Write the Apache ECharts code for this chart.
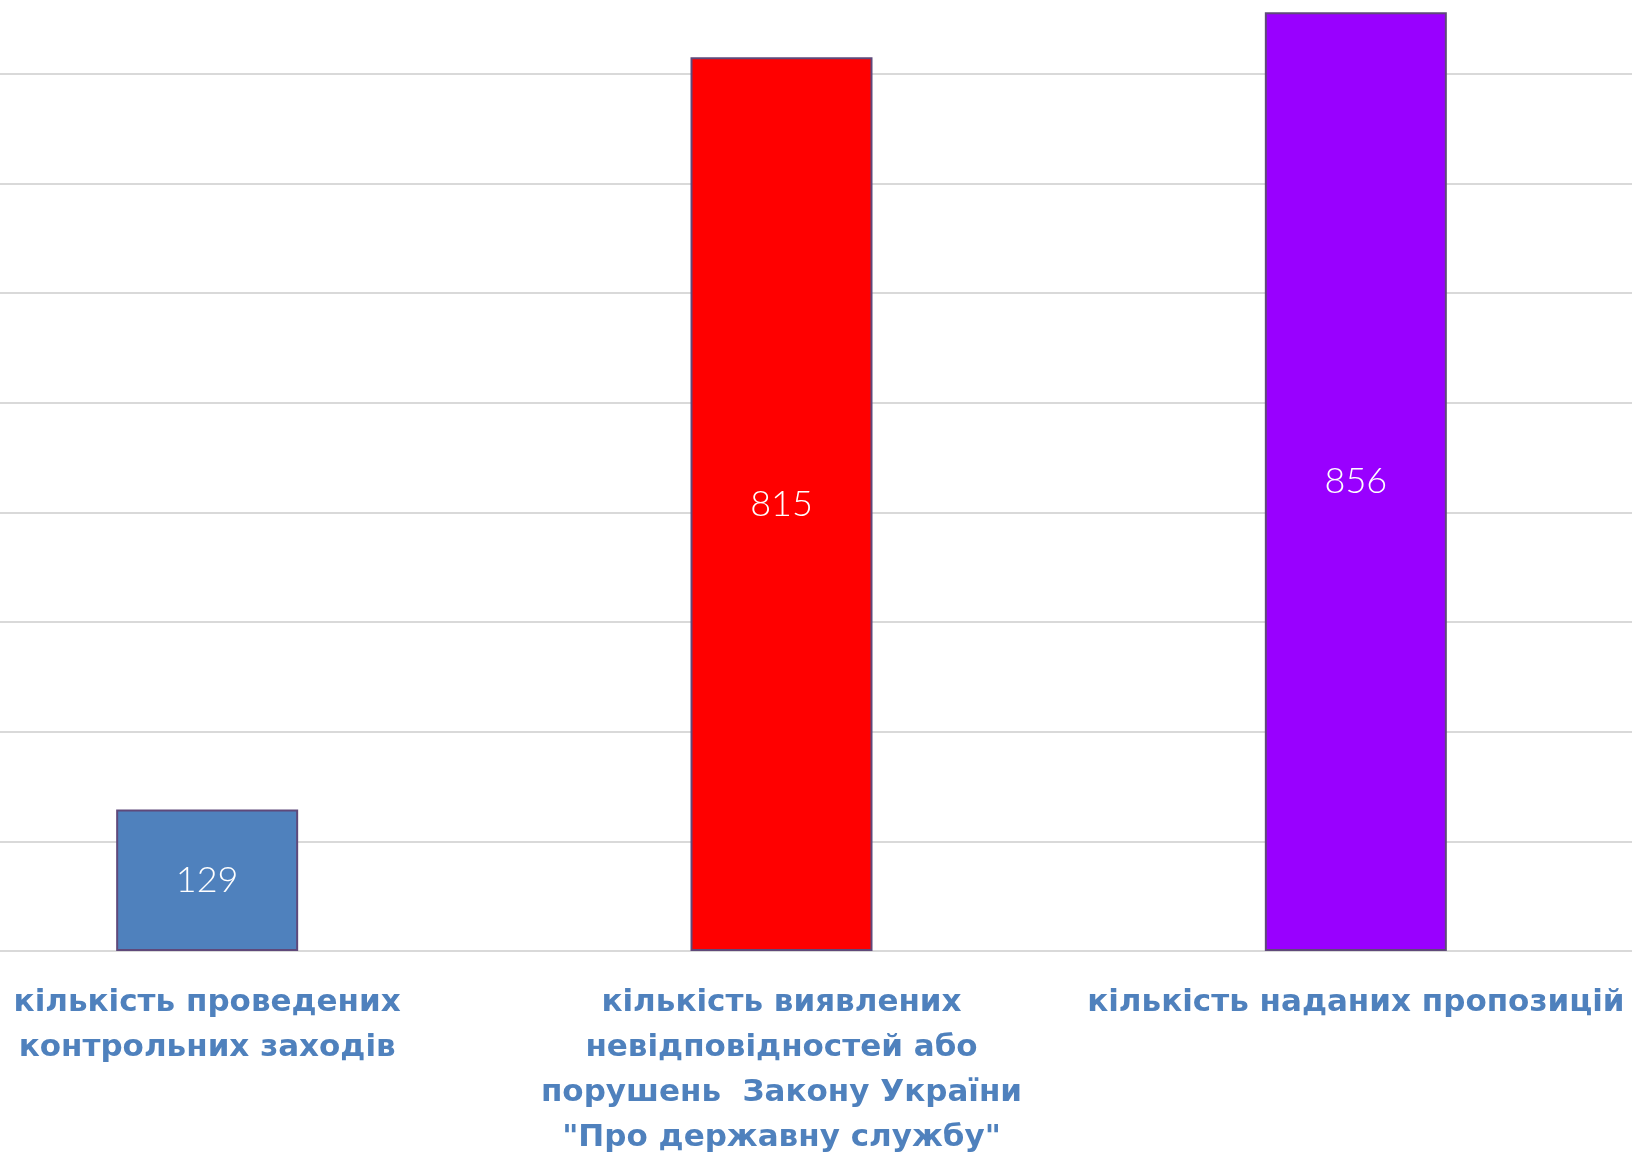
<!DOCTYPE html>
<html>
<head>
<meta charset="utf-8">
<script src="https://cdn.jsdelivr.net/npm/echarts@6/dist/echarts.min.js"></script>
<style>
html,body{margin:0;padding:0;background:#fff;}
#chart{width:1632px;height:1153px;}
</style>
</head>
<body>
<div id="chart"></div>
<script>
const categories = [
  "кількість проведених\nконтрольних заходів",
  "кількість виявлених\nневідповідностей або\nпорушень  Закону України\n\"Про державну службу\"",
  "кількість наданих пропозицій"
];
const values = [129, 815, 856];
const barColors = ["#4F81BD", "#FF0000", "#9900FF"];

const chart = echarts.init(document.getElementById('chart'));
chart.setOption({
  animation: false,
  backgroundColor: '#ffffff',
  grid: { left: -80, right: -11, top: -36, bottom: 202, containLabel: false, outerBoundsMode: 'none' },
  xAxis: {
    type: 'category',
    data: categories,
    axisLine: { show: false },
    axisTick: { show: false },
    axisLabel: {
      interval: 0,
      margin: 29,
      color: '#4F81BD',
      fontFamily: 'DejaVu Sans',
      fontWeight: 'bold',
      fontSize: 31,
      lineHeight: 45,
      align: 'center'
    }
  },
  yAxis: {
    type: 'value',
    min: 0,
    max: 900,
    interval: 100,
    axisLine: { show: false },
    axisTick: { show: false },
    axisLabel: { show: false },
    splitLine: { lineStyle: { color: '#D9D9D9', width: 2 } }
  },
  series: [{
    type: 'bar',
    barWidth: 182,
    data: values.map((v, i) => ({
      value: v,
      itemStyle: { color: barColors[i] }
    })),
    itemStyle: { borderColor: '#5F497A', borderWidth: 2 },
    label: {
      show: true,
      position: 'inside',
      color: '#ffffff',
      fontFamily: 'Lato',
      fontWeight: 300,
      fontSize: 36
    }
  }]
});
</script>
</body>
</html>
